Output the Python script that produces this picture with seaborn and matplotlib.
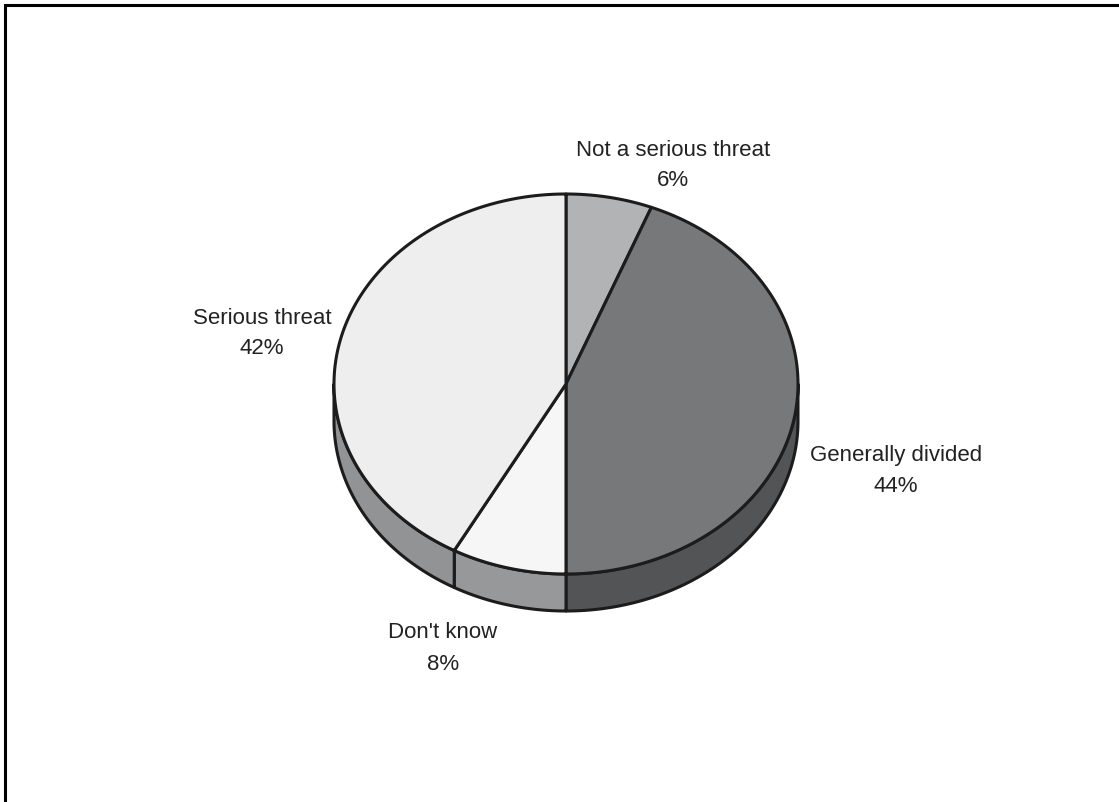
import numpy as np
import matplotlib
matplotlib.use("Agg")
import matplotlib.pyplot as plt
from matplotlib.patches import Polygon
import seaborn as sns

# ---- data ----
categories = ["Not a serious threat", "Generally divided", "Don't know", "Serious threat"]
values = [6, 44, 8, 42]

# ---- styles ----
top_colors = ["#b1b3b5", "#77787a", "#f6f6f6", "#eeeeee"]
side_colors = ["#8a8b8d", "#535456", "#97989a", "#929395"]
label_pos = [(673, 150), (896, 455), (443, 633), (262, 318)]

sns.set_theme(style="white")
plt.rcParams["font.family"] = ["Liberation Sans", "DejaVu Sans"]

W, H = 1119, 802
fig = plt.figure(figsize=(W / 100, H / 100), dpi=100)
ax = fig.add_axes([0, 0, 1, 1])
ax.set_xlim(0, W)
ax.set_ylim(H, 0)
ax.axis("off")

cx, cy, rx, ry, depth = 566, 384, 232, 190, 37
edge = "#1c1c1c"
lw = 2.2


def pts(theta_deg, dy=0.0):
    t = np.radians(theta_deg)
    return np.column_stack([cx + rx * np.sin(t), cy - ry * np.cos(t) + dy])


fr = np.array(values, dtype=float) / np.sum(values)
starts = np.concatenate([[0], np.cumsum(fr)[:-1]]) * 360
ends = np.cumsum(fr) * 360

# sides (front half: 90..270 deg clockwise from top)
for a0, a1, sc in zip(starts, ends, side_colors):
    lo, hi = max(a0, 90), min(a1, 270)
    if hi <= lo:
        continue
    th = np.linspace(lo, hi, 200)
    top = pts(th)
    bot = pts(th, depth)
    poly = np.vstack([top, bot[::-1]])
    ax.add_patch(Polygon(poly, closed=True, facecolor=sc, edgecolor=edge,
                         linewidth=lw, joinstyle="round", zorder=1))

# top faces
for a0, a1, tc in zip(starts, ends, top_colors):
    th = np.linspace(a0, a1, 300)
    poly = np.vstack([[cx, cy], pts(th)])
    ax.add_patch(Polygon(poly, closed=True, facecolor=tc, edgecolor=edge,
                         linewidth=lw, joinstyle="round", zorder=2))

# labels
for cat, v, (lx, ly) in zip(categories, values, label_pos):
    ax.text(lx, ly, cat, ha="center", va="center", fontsize=16, color="#222222")
    ax.text(lx, ly + 31, f"{v}%", ha="center", va="center", fontsize=16, color="#222222")

# frame (left and top)
ax.plot([4.5, 4.5], [H, 4.5], color="black", lw=2.2, clip_on=False, solid_capstyle="projecting")
ax.plot([4.5, W], [4.5, 4.5], color="black", lw=2.2, clip_on=False, solid_capstyle="projecting")

fig.savefig("out.png", dpi=100)
